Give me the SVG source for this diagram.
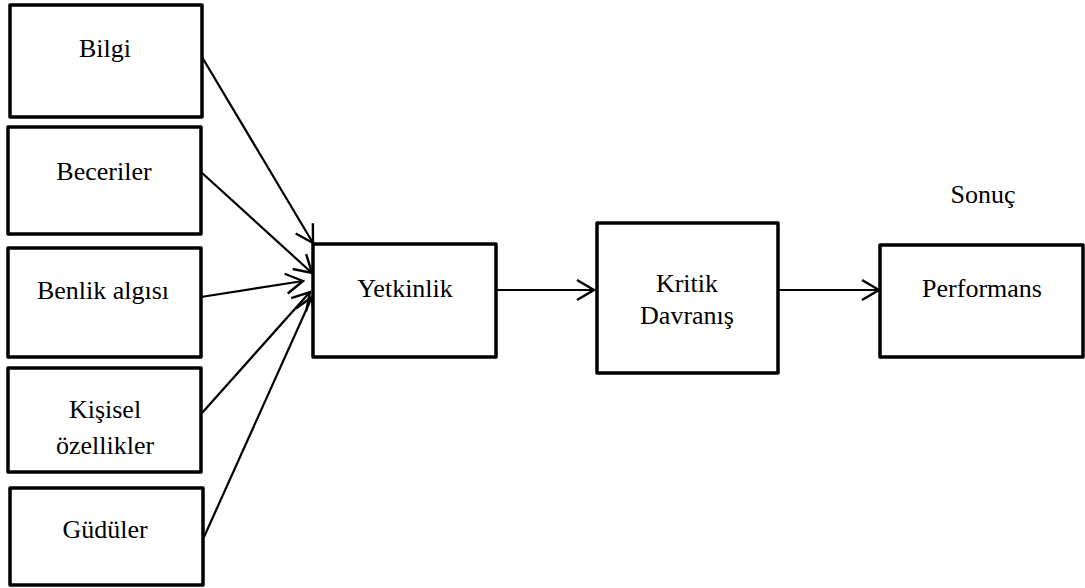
<svg xmlns="http://www.w3.org/2000/svg" width="1085" height="588" viewBox="0 0 1085 588">
  <style>
    .box { fill: #ffffff; stroke: #000000; stroke-width: 3.5; stroke-linejoin: round; }
    .lbl { font-family: "Liberation Serif", "Times New Roman", serif; font-size: 26px; fill: #000000; text-anchor: middle; }
    .edge { fill: none; stroke: #000000; stroke-width: 2.2; marker-end: url(#open); }
  </style>
  <defs>
    <!-- open chevron arrowhead shared by all connectors -->
    <marker id="open" markerUnits="userSpaceOnUse" markerWidth="30" markerHeight="30" viewBox="-20 -15 30 30" refX="0" refY="0" orient="auto">
      <path d="M-17,-10 L0,0 L-17,10" fill="none" stroke="#000000" stroke-width="2.4" stroke-linejoin="miter"/>
    </marker>
  </defs>
  <rect width="1085" height="588" fill="#ffffff"/>

  <g id="connectors">
    <line class="edge" x1="202" y1="57" x2="313" y2="243"/>
    <line class="edge" x1="201" y1="172" x2="312" y2="273"/>
    <line class="edge" x1="201" y1="297" x2="303" y2="281"/>
    <line class="edge" x1="202" y1="413" x2="310" y2="292"/>
    <line class="edge" x1="204" y1="537" x2="312" y2="297"/>
    <line class="edge" x1="496" y1="290" x2="594" y2="290"/>
    <line class="edge" x1="778" y1="290" x2="879" y2="290"/>
  </g>

  <g id="bilgi">
    <rect class="box" x="10" y="5" width="192" height="112"/>
    <text class="lbl" x="105" y="57">Bilgi</text>
  </g>
  <g id="beceriler">
    <rect class="box" x="8" y="127" width="193" height="107"/>
    <text class="lbl" x="104" y="180">Beceriler</text>
  </g>
  <g id="benlik-algisi">
    <rect class="box" x="8" y="248" width="193" height="109"/>
    <text class="lbl" x="103" y="299">Benlik algısı</text>
  </g>
  <g id="kisisel-ozellikler">
    <rect class="box" x="8" y="368" width="193" height="104"/>
    <text class="lbl" x="105" y="418">Kişisel</text>
    <text class="lbl" x="105" y="454">özellikler</text>
  </g>
  <g id="guduler">
    <rect class="box" x="10" y="488" width="193" height="97"/>
    <text class="lbl" x="105" y="538">Güdüler</text>
  </g>
  <g id="yetkinlik">
    <rect class="box" x="313" y="244" width="183" height="113"/>
    <text class="lbl" x="405" y="297">Yetkinlik</text>
  </g>
  <g id="kritik-davranis">
    <rect class="box" x="597" y="223" width="181" height="150"/>
    <text class="lbl" x="687" y="292">Kritik</text>
    <text class="lbl" x="687" y="324">Davranış</text>
  </g>
  <g id="performans">
    <rect class="box" x="880" y="245" width="203" height="112"/>
    <text class="lbl" x="982" y="297">Performans</text>
  </g>
  <g id="sonuc">
    <text class="lbl" x="983" y="203">Sonuç</text>
  </g>
</svg>
